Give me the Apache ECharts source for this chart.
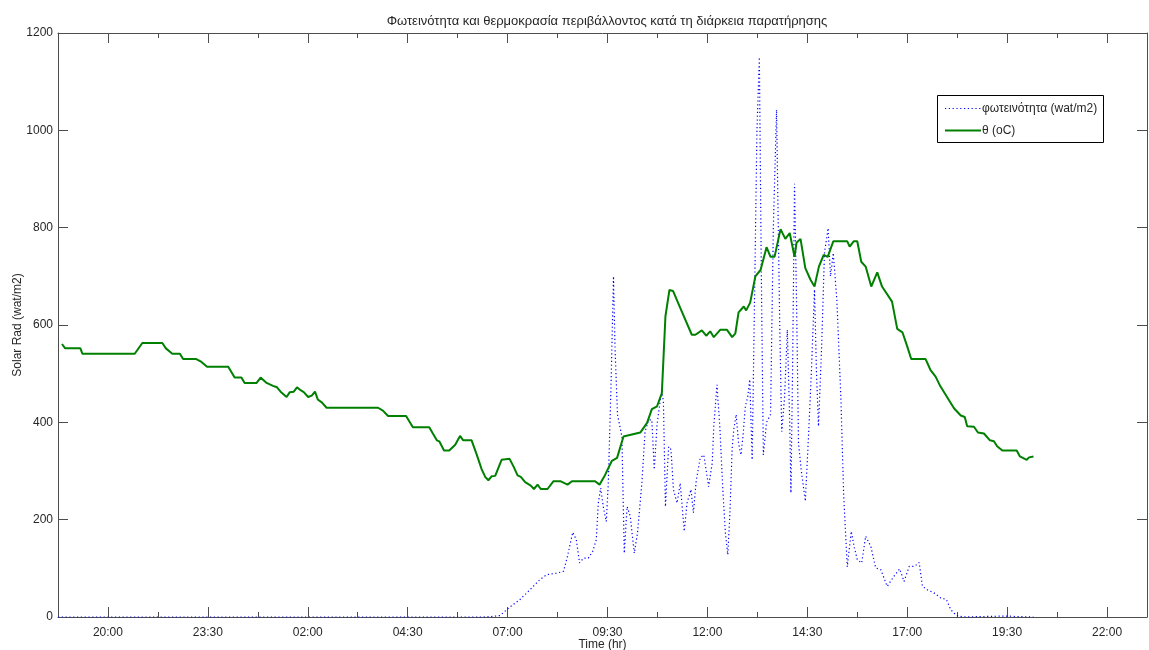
<!DOCTYPE html>
<html>
<head>
<meta charset="utf-8">
<script src="https://cdn.jsdelivr.net/npm/echarts@6/dist/echarts.min.js"></script>
<style>
  html, body { margin: 0; padding: 0; background: #ffffff; }
  #chart { width: 1149px; height: 650px; }
</style>
</head>
<body>
<div id="chart"></div>
<script>
// Time axis: hours on a continuous scale, labelled every 2.5 h
const tickLabels = ['20:00', '23:30', '02:00', '04:30', '07:00', '09:30', '12:00', '14:30', '17:00', '19:30', '22:00'];
const majorTicks = [20, 22.5, 25, 27.5, 30, 32.5, 35, 37.5, 40, 42.5, 45];
const minorTicks = [21.25, 23.75, 26.25, 28.75, 31.25, 33.75, 36.25, 38.75, 41.25, 43.75];

// Ambient temperature (plotted on the radiation scale)
const tempTime = [18.85, 18.93, 19.31, 19.36, 20.67, 20.86, 21.36, 21.45, 21.61, 21.80, 21.88, 22.21, 22.34, 22.48,
  23.01, 23.17, 23.34, 23.42, 23.72, 23.82, 23.97, 24.13, 24.23, 24.32, 24.47, 24.55, 24.65, 24.73, 24.82, 24.90,
  25.01, 25.10, 25.18, 25.25, 25.35, 25.47, 26.76, 26.88, 26.93, 27.01, 27.46, 27.63, 28.04, 28.13, 28.23, 28.29,
  28.41, 28.54, 28.69, 28.81, 28.89, 29.10, 29.23, 29.35, 29.44, 29.52, 29.60, 29.69, 29.85, 30.05, 30.15, 30.25,
  30.33, 30.44, 30.58, 30.66, 30.75, 30.83, 31.00, 31.15, 31.32, 31.50, 31.61, 32.19, 32.30, 32.44, 32.61, 32.74,
  32.90, 33.32, 33.49, 33.61, 33.74, 33.86, 33.95, 34.05, 34.14, 34.32, 34.61, 34.70, 34.86, 34.97, 35.07, 35.16,
  35.32, 35.49, 35.62, 35.70, 35.78, 35.91, 35.97, 36.07, 36.20, 36.33, 36.48, 36.58, 36.68, 36.83, 36.95, 37.06,
  37.18, 37.23, 37.33, 37.45, 37.58, 37.68, 37.79, 37.91, 38.01, 38.15, 38.50, 38.56, 38.66, 38.75, 38.85, 38.96,
  39.10, 39.25, 39.37, 39.62, 39.75, 39.88, 40.00, 40.10, 40.46, 40.58, 40.71, 40.83, 41.17, 41.34, 41.44, 41.50,
  41.67, 41.77, 41.92, 42.07, 42.17, 42.25, 42.38, 42.74, 42.82, 42.99, 43.05, 43.16];
const tempValue = [561, 552, 552, 541, 541, 563, 563, 552, 541, 541, 530, 530, 524, 514,
  514, 492, 492, 481, 481, 492, 481, 475, 472, 463, 452, 462, 463, 472, 466, 462,
  452, 455, 463, 447, 441, 430, 430, 424, 424, 413, 413, 390, 390, 377, 363, 361,
  342, 342, 354, 372, 363, 363, 333, 304, 288, 281, 289, 290, 323, 325, 309, 291,
  288, 277, 270, 263, 272, 263, 263, 279, 279, 272, 279, 279, 272, 292, 321, 327,
  371, 379, 399, 427, 433, 460, 618, 672, 670, 635, 580, 580, 589, 578, 587, 575,
  590, 590, 575, 583, 626, 638, 630, 646, 700, 713, 760, 740, 740, 797, 777, 789,
  740, 769, 777, 717, 693, 679, 720, 744, 740, 772, 772, 761, 772, 772, 730, 720,
  679, 708, 679, 648, 592, 585, 556, 530, 530, 508, 494, 474, 429, 414, 411, 392,
  391, 379, 377, 363, 361, 351, 342, 342, 330, 323, 328, 330];

// Solar radiation (wat/m2)
const radTime = [18.75, 29.40, 29.60, 29.81, 30.02, 30.31, 30.56, 30.81, 30.98, 31.23, 31.40, 31.50, 31.63, 31.72,
  31.80, 31.90, 32.02, 32.13, 32.22, 32.27, 32.33, 32.40, 32.47, 32.52, 32.59, 32.65, 32.69, 32.75, 32.80, 32.86,
  32.92, 32.99, 33.07, 33.17, 33.25, 33.36, 33.44, 33.53, 33.61, 33.67, 33.74, 33.80, 33.86, 33.90, 33.95, 34.03,
  34.09, 34.15, 34.24, 34.32, 34.42, 34.49, 34.59, 34.65, 34.72, 34.82, 34.91, 35.03, 35.12, 35.16, 35.24, 35.31,
  35.39, 35.45, 35.51, 35.56, 35.62, 35.66, 35.72, 35.78, 35.84, 35.89, 35.95, 36.01, 36.06, 36.12, 36.17, 36.24,
  36.30, 36.35, 36.40, 36.48, 36.58, 36.65, 36.73, 36.81, 36.86, 36.93, 37.00, 37.06, 37.09, 37.13, 37.18, 37.23,
  37.28, 37.35, 37.45, 37.53, 37.60, 37.68, 37.73, 37.78, 37.86, 37.93, 38.02, 38.08, 38.15, 38.24, 38.34, 38.41,
  38.50, 38.60, 38.67, 38.75, 38.86, 38.96, 39.09, 39.21, 39.34, 39.50, 39.67, 39.81, 39.92, 40.05, 40.18, 40.30,
  40.38, 40.50, 40.68, 40.84, 40.98, 41.09, 41.23, 41.40, 42.50, 42.70, 43.16];
const radValue = [0, 0, 1, 3, 18, 36, 56, 77, 87, 90, 94, 125, 174, 159,
  111, 121, 121, 135, 159, 234, 265, 224, 196, 275, 481, 700, 549, 416, 419, 371,
  131, 227, 207, 131, 172, 275, 381, 405, 405, 303, 395, 433, 467, 440, 227, 350,
  344, 262, 234, 275, 176, 234, 262, 214, 280, 327, 333, 268, 316, 392, 477, 392,
  255, 173, 128, 207, 347, 385, 416, 357, 333, 371, 433, 453, 488, 323, 600, 1000,
  1150, 700, 333, 400, 416, 800, 1042, 600, 381, 450, 590, 400, 255, 500, 890, 650,
  357, 300, 238, 371, 500, 673, 500, 392, 560, 748, 799, 700, 748, 650, 450, 250,
  103, 176, 145, 118, 111, 166, 145, 101, 97, 63, 84, 99, 73, 104, 104, 112,
  63, 56, 49, 39, 36, 15, 3, 0, 2, 1, 0];

const seriesNames = ['φωτεινότητα (wat/m2)', 'θ (oC)'];
const BLUE = '#0000ff', GREEN = '#008000';
const DOTS = [1.2, 2.6];

const tempData = tempTime.map((t, i) => [t, tempValue[i]]);
const radData = radTime.map((t, i) => [t, radValue[i]]);

const FONT = 'Liberation Sans, Arial, sans-serif';
const TEXT = '#262626';
const AXIS = '#4d4d4d';
const X_MIN = 18.75, X_MAX = 46.0;

function xAxisPair(position) {
  const bottom = position === 'bottom';
  return [
    {
      type: 'value', position: position, min: X_MIN, max: X_MAX,
      axisLine: { show: true, lineStyle: { color: AXIS, width: 1 } },
      axisTick: { show: true, inside: true, length: 10, customValues: majorTicks, lineStyle: { color: AXIS } },
      axisLabel: bottom ? {
        show: true, customValues: majorTicks, margin: 10, color: TEXT, fontSize: 12, fontFamily: FONT,
        formatter: v => tickLabels[Math.round((v - 20) / 2.5)]
      } : { show: false },
      splitLine: { show: false },
      name: bottom ? 'Time (hr)' : '', nameLocation: 'middle', nameGap: 22, nameMoveOverlap: false,
      nameTextStyle: { color: TEXT, fontSize: 12, fontFamily: FONT }
    },
    {
      type: 'value', position: position, min: X_MIN, max: X_MAX,
      axisLine: { show: false },
      axisTick: { show: true, inside: true, length: 5, customValues: minorTicks, lineStyle: { color: AXIS } },
      axisLabel: { show: false },
      splitLine: { show: false }
    }
  ];
}

// Legend box drawn as graphics so the line samples keep their exact styles
const LEG_X = 937, LEG_Y = 95, LEG_W = 166, LEG_H = 47;
const legendGraphics = [
  { type: 'rect', left: LEG_X, top: LEG_Y, z: 100,
    shape: { width: LEG_W, height: LEG_H },
    style: { fill: '#ffffff', stroke: '#000000', lineWidth: 1 } },
  { type: 'line', z: 101, shape: { x1: LEG_X + 8, y1: LEG_Y + 13.5, x2: LEG_X + 44, y2: LEG_Y + 13.5 },
    style: { stroke: BLUE, lineWidth: 1.2, lineDash: DOTS } },
  { type: 'text', z: 101, x: LEG_X + 45, y: LEG_Y + 13.5,
    style: { text: seriesNames[0], fill: TEXT, font: '12px ' + FONT, verticalAlign: 'middle' } },
  { type: 'line', z: 101, shape: { x1: LEG_X + 8, y1: LEG_Y + 35.5, x2: LEG_X + 44, y2: LEG_Y + 35.5 },
    style: { stroke: GREEN, lineWidth: 2 } },
  { type: 'text', z: 101, x: LEG_X + 45, y: LEG_Y + 35.5,
    style: { text: seriesNames[1], fill: TEXT, font: '12px ' + FONT, verticalAlign: 'middle' } }
];

const chart = echarts.init(document.getElementById('chart'), null, { renderer: 'canvas' });
chart.setOption({
  animation: false,
  backgroundColor: '#ffffff',
  title: {
    text: 'Φωτεινότητα και θερμοκρασία περιβάλλοντος κατά τη διάρκεια παρατήρησης',
    left: 602, top: 10, textAlign: 'center',
    textStyle: { color: TEXT, fontSize: 13, fontWeight: 'normal', fontFamily: FONT }
  },
  grid: { left: 58, right: 2, top: 33, bottom: 33, containLabel: false, outerBoundsMode: 'none' },
  xAxis: [...xAxisPair('bottom'), ...xAxisPair('top')],
  yAxis: [
    {
      type: 'value', position: 'left', min: 0, max: 1200, interval: 200,
      axisLine: { show: true, lineStyle: { color: AXIS } },
      axisTick: { show: true, inside: true, length: 10, lineStyle: { color: AXIS } },
      axisLabel: { color: TEXT, fontSize: 12, fontFamily: FONT, margin: 5, formatter: v => String(v) },
      splitLine: { show: false },
      name: 'Solar Rad (wat/m2)', nameLocation: 'middle', nameGap: 34, nameMoveOverlap: false,
      nameTextStyle: { color: TEXT, fontSize: 12, fontFamily: FONT }
    },
    {
      type: 'value', position: 'right', min: 0, max: 1200, interval: 200,
      axisLine: { show: true, lineStyle: { color: AXIS } },
      axisTick: { show: true, inside: true, length: 10, lineStyle: { color: AXIS } },
      axisLabel: { show: false },
      splitLine: { show: false }
    }
  ],
  graphic: legendGraphics,
  series: [
    {
      name: seriesNames[0], type: 'line', xAxisIndex: 0, yAxisIndex: 0,
      data: radData, symbol: 'none', smooth: false, color: BLUE,
      lineStyle: { color: BLUE, width: 1.2, type: DOTS, dashOffset: 0 },
      emphasis: { disabled: true }
    },
    {
      name: seriesNames[1], type: 'line', xAxisIndex: 0, yAxisIndex: 0,
      data: tempData, symbol: 'none', smooth: false, color: GREEN,
      lineStyle: { color: GREEN, width: 2 },
      emphasis: { disabled: true }
    }
  ]
});
</script>
</body>
</html>
